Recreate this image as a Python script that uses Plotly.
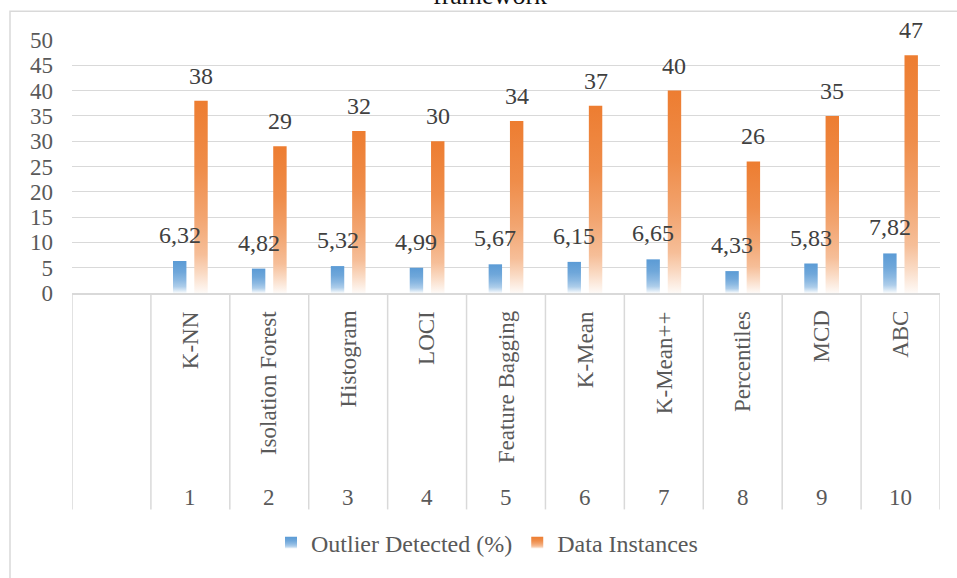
import plotly.graph_objects as go

# ---- data -------------------------------------------------------------
category_numbers = ["1", "2", "3", "4", "5", "6", "7", "8", "9", "10"]
method_names = ["K-NN", "Isolation Forest", "Histogram", "LOCI", "Feature Bagging",
                "K-Mean", "K-Mean++", "Percentiles", "MCD", "ABC"]
outlier_detected = [6.32, 4.82, 5.32, 4.99, 5.67, 6.15, 6.65, 4.33, 5.83, 7.82]
data_instances = [38, 29, 32, 30, 34, 37, 40, 26, 35, 47]
y_tick_values = [0, 5, 10, 15, 20, 25, 30, 35, 40, 45, 50]

# ---- styling ----------------------------------------------------------
FONT = "Liberation Serif"
BLUE = "#5B9BD5"
ORANGE = "#ED7D31"
GRID = "#D9D9D9"
AXIS_TEXT = "#595959"
LABEL_TEXT = "#404040"

# plot area in pixels (used for paper-coordinate conversions)
W, H = 957, 578
L, R, T, B = 72, 17, 40, 282
PW, PH = W - L - R, H - T - B


def px_x(p):
    return (p - L) / PW


def px_y(p):
    return (H - B - p) / PH


# the first category slot is left empty, categories occupy slots 1..10
slots = list(range(1, len(category_numbers) + 1))
BAR_W = 0.17
BLUE_OFF, ORANGE_OFF = -0.22, 0.05

fig = go.Figure()
fig.add_trace(go.Bar(
    x=slots, y=outlier_detected, name="Outlier Detected (%)",
    width=BAR_W, offset=BLUE_OFF, marker=dict(color=BLUE, line=dict(width=0)),
    hoverinfo="skip",
))
fig.add_trace(go.Bar(
    x=slots, y=data_instances, name="Data Instances",
    width=BAR_W, offset=ORANGE_OFF, marker=dict(color=ORANGE, line=dict(width=0)),
    hoverinfo="skip",
))

annotations = []
# value labels above the bars
for s, v in zip(slots, outlier_detected):
    annotations.append(dict(
        x=s + BLUE_OFF + BAR_W / 2, y=v, xref="x", yref="y",
        text=f"{v:.2f}".replace(".", ","), showarrow=False,
        yanchor="middle", yshift=26,
        font=dict(family=FONT, size=24, color=LABEL_TEXT),
    ))
for s, v in zip(slots, data_instances):
    annotations.append(dict(
        x=s + ORANGE_OFF + BAR_W / 2, y=v, xref="x", yref="y",
        text=str(v), showarrow=False,
        yanchor="middle", yshift=25,
        font=dict(family=FONT, size=24, color=LABEL_TEXT),
    ))

# two-level category axis: rotated method names, then the numbers
for s, name, num in zip(slots, method_names, category_numbers):
    annotations.append(dict(
        x=s, y=px_y(312), xref="x", yref="paper",
        text=name, textangle=-90, showarrow=False,
        xanchor="center", yanchor="top",
        font=dict(family=FONT, size=23, color=AXIS_TEXT),
    ))
    annotations.append(dict(
        x=s, y=px_y(503), xref="x", yref="paper",
        text=num, showarrow=False,
        xanchor="center", yanchor="middle",
        font=dict(family=FONT, size=23, color=AXIS_TEXT),
    ))

# chart title (runs off the top edge)
annotations.append(dict(
    x=px_x(490), y=px_y(12), xref="paper", yref="paper",
    text="framework", showarrow=False,
    xanchor="center", yanchor="bottom",
    font=dict(family=FONT, size=26, color="#111111"),
))

shapes = []
# category dividers below the axis
for k in range(len(slots) + 2):
    shapes.append(dict(
        type="line", xref="x", yref="paper",
        x0=k - 0.5, x1=k - 0.5, y0=0, y1=px_y(515),
        line=dict(color=GRID, width=1.5),
    ))
# outer chart border
shapes.append(dict(
    type="rect", xref="paper", yref="paper",
    x0=px_x(10), x1=px_x(965), y0=px_y(590), y1=px_y(11),
    line=dict(color=GRID, width=1.5), fillcolor="rgba(0,0,0,0)", layer="below",
))

fig.update_layout(
    width=W, height=H, autosize=False,
    margin=dict(l=L, r=R, t=T, b=B, pad=0),
    paper_bgcolor="white", plot_bgcolor="white",
    font=dict(family=FONT, color=AXIS_TEXT),
    barmode="overlay",
    showlegend=True,
    legend=dict(
        orientation="h", x=px_x(487), xanchor="center",
        y=px_y(549), yanchor="middle",
        font=dict(family=FONT, size=24, color=AXIS_TEXT),
        bgcolor="rgba(0,0,0,0)", itemwidth=30,
    ),
    xaxis=dict(
        range=[-0.5, len(slots) + 0.5], showticklabels=False, showgrid=False,
        zeroline=False, showline=True, linecolor=GRID, linewidth=1.5,
        fixedrange=True,
    ),
    yaxis=dict(
        range=[0, 50], tickvals=y_tick_values, showgrid=True, gridcolor=GRID,
        gridwidth=1, zeroline=False, showline=False, ticks="",
        ticklabelstandoff=18,
        tickfont=dict(family=FONT, size=23, color=AXIS_TEXT),
        fixedrange=True,
    ),
    annotations=annotations,
    shapes=shapes,
)

# vertical gradient fill (full colour at the top, fading to white at the base)
post_js = """
document.body.style.margin = '0';
var gd = document.getElementById('{plot_id}');
var gradSpecs = [['gradBlue', [91,155,213]], ['gradOrange', [237,125,49]]];
var stops = [[0,0],[0.35,0.12],[0.6,0.3],[0.8,0.5],[0.9,0.72],[1,0.96]];
function mix(c, f) {
  return 'rgb(' + c.map(function(v){ return Math.round(v + (255 - v) * f); }).join(',') + ')';
}
function applyGradients() {
  var svg = gd.querySelector('svg.main-svg');
  if (!svg) return;
  var defs = svg.querySelector('defs');
  var ns = 'http://www.w3.org/2000/svg';
  gradSpecs.forEach(function(spec) {
    if (document.getElementById(spec[0])) return;
    var g = document.createElementNS(ns, 'linearGradient');
    g.setAttribute('id', spec[0]);
    g.setAttribute('x1', '0'); g.setAttribute('y1', '0');
    g.setAttribute('x2', '0'); g.setAttribute('y2', '1');
    stops.forEach(function(s) {
      var st = document.createElementNS(ns, 'stop');
      st.setAttribute('offset', s[0]);
      st.setAttribute('stop-color', mix(spec[1], s[1]));
      g.appendChild(st);
    });
    defs.appendChild(g);
  });
  var traces = gd.querySelectorAll('.barlayer .trace');
  traces.forEach(function(tr, i) {
    tr.querySelectorAll('path').forEach(function(p) {
      p.style.fill = 'url(#' + gradSpecs[i][0] + ')';
    });
  });
  var items = gd.querySelectorAll('.legend .traces');
  items.forEach(function(it, i) {
    it.querySelectorAll('.legendpoints path').forEach(function(p) {
      p.style.fill = 'url(#' + gradSpecs[i][0] + ')';
    });
  });
}
applyGradients();
gd.on('plotly_afterplot', applyGradients);
"""

fig.write_html("out.html", post_script=post_js, config={"displayModeBar": False})
